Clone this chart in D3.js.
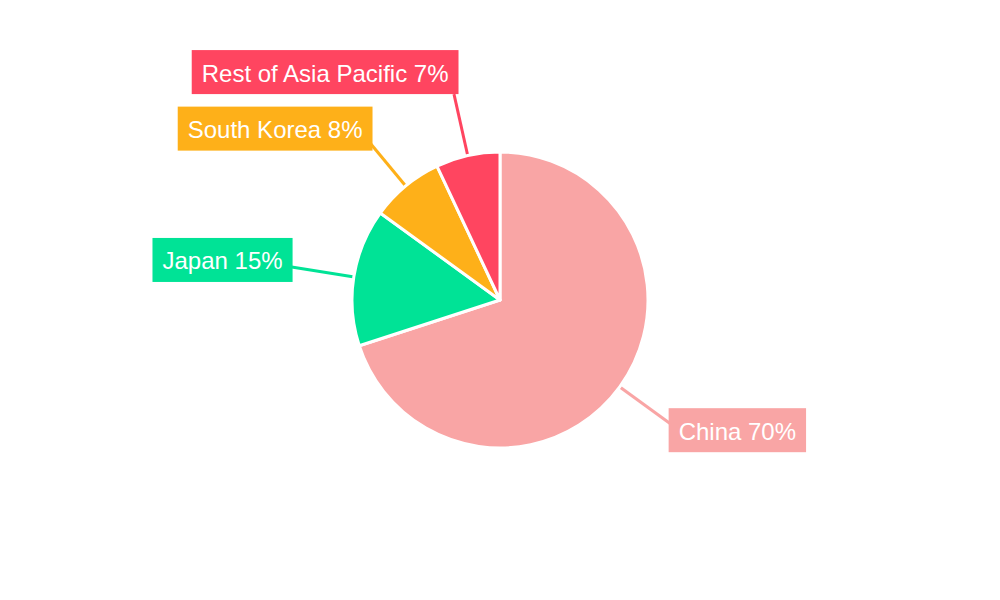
<!DOCTYPE html>
<html>
<head>
<meta charset="utf-8">
<script src="https://cdn.jsdelivr.net/npm/d3@7"></script>
<style>
  body { margin: 0; background: #fff; }
  text { font-family: "Liberation Sans", sans-serif; }
</style>
</head>
<body>
<svg id="chart" width="1000" height="600"></svg>
<script>
// Data
const regions = ['China', 'Japan', 'South Korea', 'Rest of Asia Pacific'];
const shares = [70, 15, 8, 7];
const colors = ['#f9a5a5', '#00e396', '#feb019', '#ff4560'];

// where the leader line meets its label box (fraction of box width / height)
const labelAnchor = [[0.015, 0.36], [0.993, 0.66], [0.964, 0.70], [0.983, 1]];

const cx = 500, cy = 300, r = 148;
const lineOut = 63, boxH = 44, padX = 10;

const svg = d3.select('#chart');
const g = svg.append('g').attr('transform', `translate(${cx},${cy})`);

const pie = d3.pie().sort(null).value(d => d.v);
const arcs = pie(regions.map((name, i) => ({ name, v: shares[i], i })));
const arc = d3.arc().innerRadius(0).outerRadius(r);

// Leader lines first so slices sit over them
arcs.forEach(a => {
  const mid = (a.startAngle + a.endAngle) / 2;
  a.dir = [Math.sin(mid), -Math.cos(mid)];
  a.p0 = [a.dir[0] * (r - 2), a.dir[1] * (r - 2)];
  a.p1 = [a.dir[0] * (r + lineOut), a.dir[1] * (r + lineOut)];
});

g.selectAll('.leader').data(arcs).enter()
  .append('line')
  .attr('class', 'leader')
  .attr('x1', d => d.p0[0]).attr('y1', d => d.p0[1])
  .attr('x2', d => d.p1[0]).attr('y2', d => d.p1[1])
  .attr('stroke', d => colors[d.data.i])
  .attr('stroke-width', 3);

g.selectAll('.slice').data(arcs).enter()
  .append('path')
  .attr('class', 'slice')
  .attr('d', arc)
  .attr('fill', d => colors[d.data.i])
  .attr('stroke', '#fff')
  .attr('stroke-width', 3)
  .attr('stroke-linejoin', 'round');

// Labels
const lab = g.selectAll('.label').data(arcs).enter().append('g').attr('class', 'label');
lab.append('rect').attr('fill', d => colors[d.data.i]);
const texts = lab.append('text')
  .attr('fill', '#fff')
  .attr('font-size', 24)
  .attr('dominant-baseline', 'central')
  .text(d => `${d.data.name} ${d.data.v}%`);

texts.each(function (d) {
  const bb = this.getBBox();
  const bw = bb.width + padX * 2;
  const [ax, ay] = labelAnchor[d.data.i];
  const x0 = d.p1[0] - ax * bw;
  const y0 = d.p1[1] - ay * boxH;
  d3.select(this).attr('x', x0 + padX).attr('y', y0 + boxH / 2 + 1);
  d3.select(this.parentNode).select('rect')
    .attr('x', x0).attr('y', y0).attr('width', bw).attr('height', boxH);
});
</script>
</body>
</html>
